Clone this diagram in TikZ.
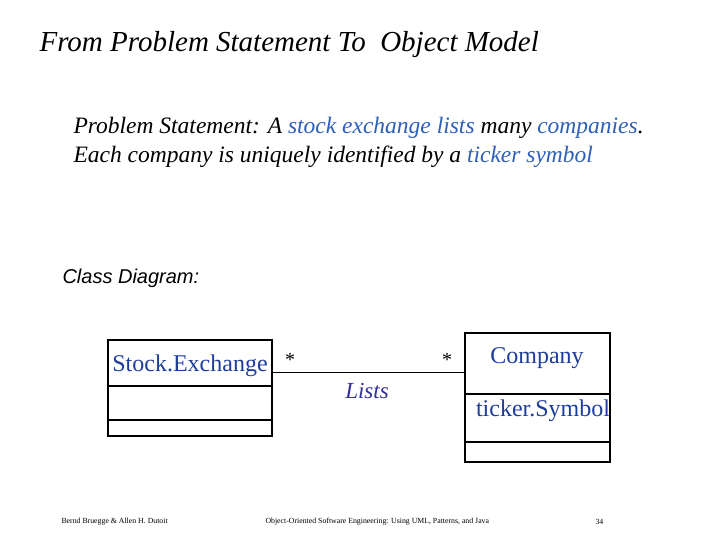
\documentclass[tikz,border=0pt]{standalone}
\usepackage{fontspec}
\setmainfont{Liberation Serif}
\setsansfont{Liberation Sans}
\begin{document}
\begin{tikzpicture}[x=1pt,y=-1pt,
  box/.style={draw=black,line width=1.6pt},
  cls/.style={text=clsblue,font=\fontsize{24}{28}\selectfont},
  foot/.style={font=\fontsize{7.8}{9}\selectfont,anchor=west}]
\definecolor{clsblue}{HTML}{1E3C9C}
\definecolor{stblue}{HTML}{2F5FB8}
\useasboundingbox (0,0) rectangle (720,540);
\node[anchor=west,font=\itshape\fontsize{29}{32}\selectfont] (title) at (36,45) {From Problem Statement To\ \ Object Model};
\node[anchor=west,font=\itshape\fontsize{23.5}{27}\selectfont] (st1) at (70,128) {Problem Statement: A \textcolor{stblue}{stock exchange lists} many \textcolor{stblue}{companies}.};
\node[anchor=west,font=\itshape\fontsize{23.5}{27}\selectfont] (st2) at (70,157) {Each company is uniquely identified by a \textcolor{stblue}{ticker symbol}};
\node[anchor=west,font=\sffamily\itshape\fontsize{20}{24}\selectfont] (cd) at (59,278) {Class Diagram:};
% StockExchange
\draw[box] (108,340) rectangle (272,436);
\draw[box] (108,386) -- (272,386);
\draw[box] (108,420) -- (272,420);
\node[cls] (se) at (190,366) {Stock.Exchange};
% Company
\draw[box] (465,333) rectangle (610,462);
\draw[box] (465,394) -- (610,394);
\draw[box] (465,442) -- (610,442);
\node[cls] (co) at (537,358) {Company};
\node[cls] (ts) at (543,411) {ticker.Symbol};
\coordinate (a) at (272,372);
\coordinate (b) at (465,372);
\draw[line width=1pt] (a) -- (b);
\node[font=\fontsize{20}{24}\selectfont] (m1) at (290,360) {*};
\node[font=\fontsize{20}{24}\selectfont] (m2) at (447,360) {*};
\node[font=\itshape\fontsize{23}{27}\selectfont,text=clsblue!80!violet] (lists) at (367,391) {Lists};
\node[foot] (f1) at (58,522) {Bernd Bruegge \& Allen H. Dutoit};
\node[foot] (f2) at (262,522) {Object-Oriented Software Engineering: Using UML, Patterns, and Java};
\node[foot] (f3) at (592,522) {34};
\end{tikzpicture}
\end{document}
